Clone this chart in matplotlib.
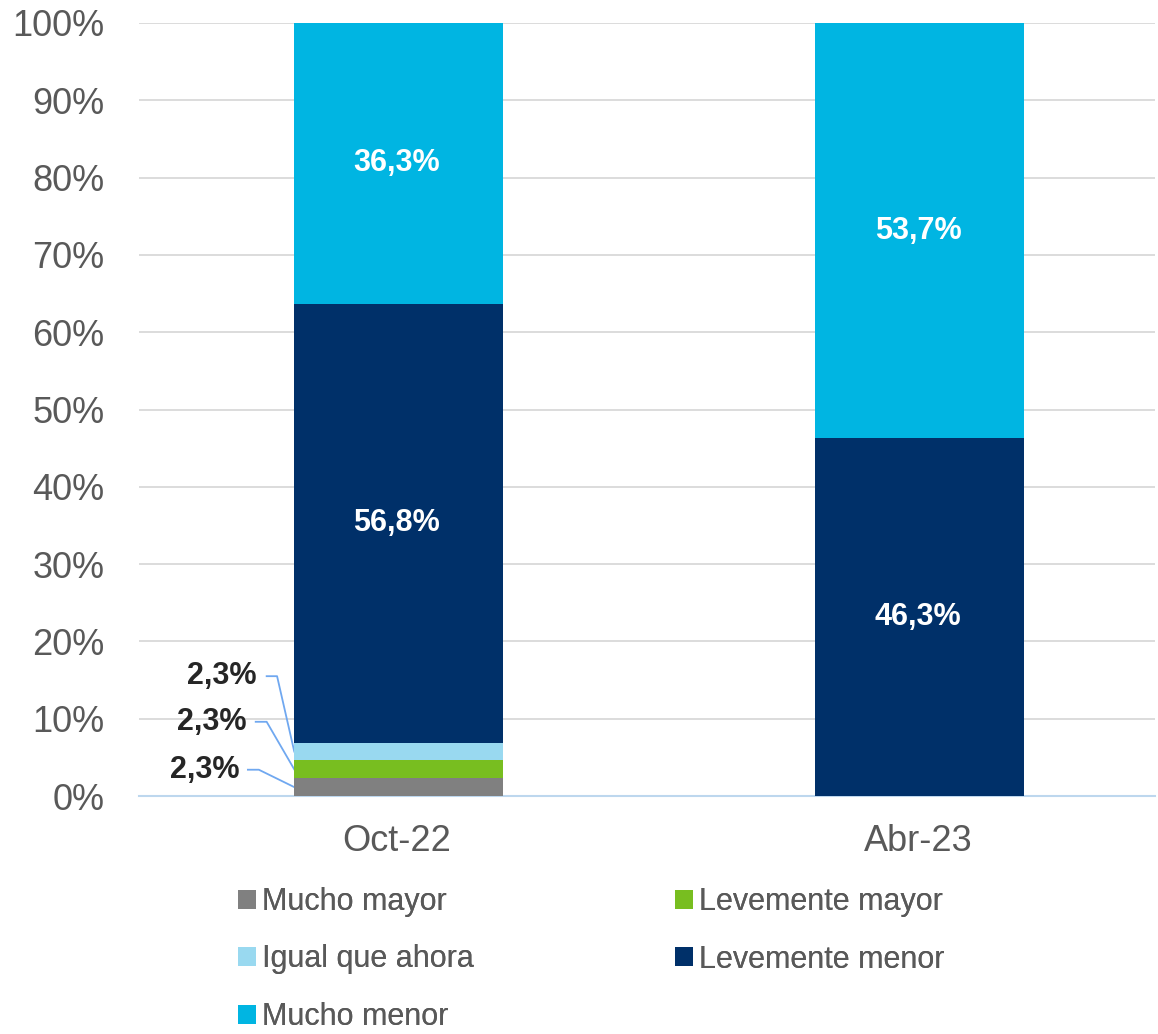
import matplotlib.pyplot as plt
import numpy as np

plt.rcParams['font.family'] = ['Liberation Sans', 'DejaVu Sans']

categories = ["Oct-22", "Abr-23"]
series = ["Mucho mayor", "Levemente mayor", "Igual que ahora", "Levemente menor", "Mucho menor"]
values = {
    "Mucho mayor":     [2.3, 0.0],
    "Levemente mayor": [2.3, 0.0],
    "Igual que ahora": [2.3, 0.0],
    "Levemente menor": [56.8, 46.3],
    "Mucho menor":     [36.3, 53.7],
}
colors = {
    "Mucho mayor": "#808080",
    "Levemente mayor": "#78BE20",
    "Igual que ahora": "#99D9F0",
    "Levemente menor": "#003069",
    "Mucho menor": "#00B5E2",
}
yticks = np.arange(0, 101, 10)

fig = plt.figure(figsize=(11.58, 10.34), dpi=100)
ax = fig.add_axes([139/1158, 1-796/1034, 1016/1158, 773/1034])

x = np.arange(len(categories))
w = 0.4
bottom = np.zeros(len(categories))
handles = {}
for s in series:
    v = np.array(values[s])
    b = ax.bar(x + 0.003, v, w, bottom=bottom, color=colors[s], label=s, zorder=3)
    handles[s] = b
    for i in range(len(categories)):
        if v[i] > 10:
            ax.text(x[i], bottom[i] + v[i] / 2, f"{v[i]:.1f}%".replace('.', ','),
                    ha='center', va='center', color='white', fontsize=22,
                    fontweight='bold', zorder=4)
    bottom += v

# small segment labels with leader lines (first category)
small = ["Mucho mayor", "Levemente mayor", "Igual que ahora"]
label_y = [3.4, 9.6, 15.5]
label_x = [-0.303, -0.288, -0.269]
lead_x0 = [-0.286, -0.271, -0.25]
lead_x1 = [-0.265, -0.25, -0.23]
base = 0.0
for s, ly, lx, x0, x1 in zip(small, label_y, label_x, lead_x0, lead_x1):
    v = values[s][0]
    mid = base + v / 2
    ax.text(lx, ly, f"{v:.1f}%".replace('.', ','), ha='right', va='center',
            color='#262626', fontsize=22, fontweight='bold')
    ax.plot([x0, x1, x[0] + 0.003 - w / 2], [ly, ly, mid],
            color='#70A8F0', lw=1.3, zorder=2, clip_on=False)
    base += v

ax.set_xlim(-0.495, 1.455)
ax.set_ylim(0, 100)
ax.set_yticks(yticks)
ax.set_yticklabels([f"{t}%" for t in yticks])
ax.set_xticks(x)
ax.set_xticklabels(categories)
ax.tick_params(axis='both', length=0, labelsize=26, labelcolor='#595959')
ax.tick_params(axis='x', pad=20)
ax.tick_params(axis='y', pad=25)
ax.grid(axis='y', color='#D9D9D9', lw=1.3, zorder=0)
for sp in ['top', 'right', 'left']:
    ax.spines[sp].set_visible(False)
ax.spines['bottom'].set_color('#BDD7EE')
ax.spines['bottom'].set_linewidth(1.5)

cols = [["Mucho mayor", "Igual que ahora", "Mucho menor"],
        ["Levemente mayor", "Levemente menor"]]
col_x = [238, 675]
for names, cx in zip(cols, col_x):
    leg = fig.legend([handles[s] for s in names], names, ncol=1,
                     loc='upper left', bbox_to_anchor=(cx/1158, 1-887/1034),
                     frameon=False, handlelength=0.6, handleheight=0.6,
                     handletextpad=0.2, labelspacing=0.9,
                     borderaxespad=0, borderpad=0,
                     prop={'family': 'Liberation Sans', 'size': 22})
    for t in leg.get_texts():
        t.set_color('#595959')
    fig.add_artist(leg)

fig.savefig('out.png', dpi=100)
